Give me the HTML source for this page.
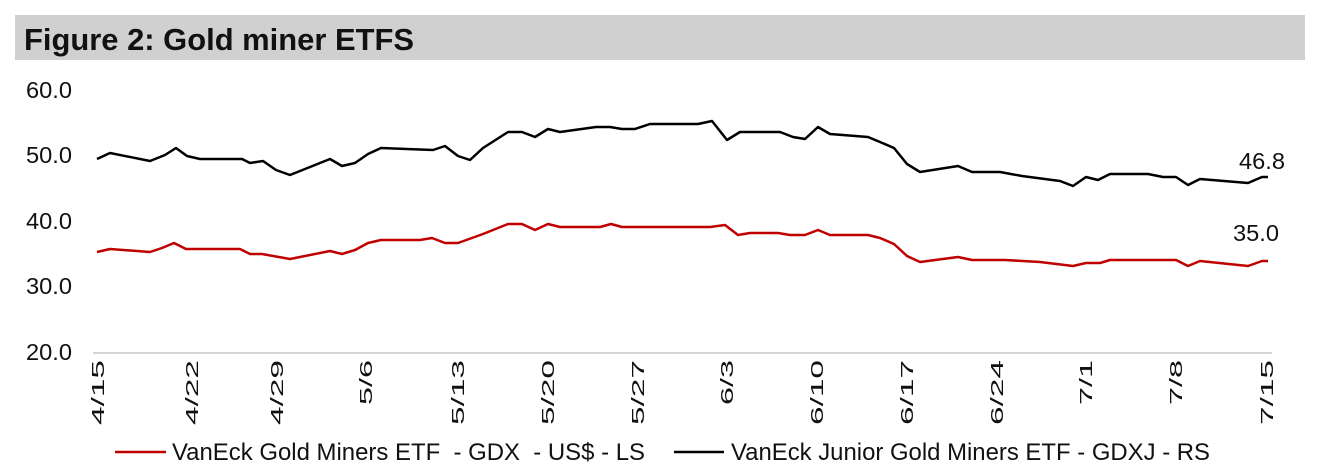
<!DOCTYPE html>
<html><head><meta charset="utf-8"><style>
html,body{margin:0;padding:0;background:#fff;}
svg{display:block;font-family:"Liberation Sans",Arial,sans-serif;}
</style></head><body>
<svg width="1321" height="472" viewBox="0 0 1321 472" xmlns="http://www.w3.org/2000/svg">
<rect x="15" y="15" width="1290" height="45" fill="#d0d0d0"/>
<text x="24" y="50" font-size="31" font-weight="bold" fill="#111" textLength="390" lengthAdjust="spacingAndGlyphs">Figure 2: Gold miner ETFS</text>
<g font-size="23" fill="#111" text-anchor="end">
<text x="72" y="98" textLength="46" lengthAdjust="spacingAndGlyphs">60.0</text>
<text x="72" y="163" textLength="46" lengthAdjust="spacingAndGlyphs">50.0</text>
<text x="72" y="229" textLength="46" lengthAdjust="spacingAndGlyphs">40.0</text>
<text x="72" y="294" textLength="46" lengthAdjust="spacingAndGlyphs">30.0</text>
<text x="72" y="360" textLength="46" lengthAdjust="spacingAndGlyphs">20.0</text>
</g>
<line x1="93" y1="353" x2="1272" y2="353" stroke="#d4d4d4" stroke-width="2"/>
<g font-size="22" fill="#111" text-anchor="end">
<text transform="translate(104,360) scale(0.8,1) rotate(-90)" textLength="65" lengthAdjust="spacingAndGlyphs">4/15</text>
<text transform="translate(198,360) scale(0.8,1) rotate(-90)" textLength="65" lengthAdjust="spacingAndGlyphs">4/22</text>
<text transform="translate(283,360) scale(0.8,1) rotate(-90)" textLength="65" lengthAdjust="spacingAndGlyphs">4/29</text>
<text transform="translate(372,360) scale(0.8,1) rotate(-90)" textLength="45" lengthAdjust="spacingAndGlyphs">5/6</text>
<text transform="translate(464,360) scale(0.8,1) rotate(-90)" textLength="65" lengthAdjust="spacingAndGlyphs">5/13</text>
<text transform="translate(554,360) scale(0.8,1) rotate(-90)" textLength="65" lengthAdjust="spacingAndGlyphs">5/20</text>
<text transform="translate(644,360) scale(0.8,1) rotate(-90)" textLength="65" lengthAdjust="spacingAndGlyphs">5/27</text>
<text transform="translate(733,360) scale(0.8,1) rotate(-90)" textLength="45" lengthAdjust="spacingAndGlyphs">6/3</text>
<text transform="translate(823,360) scale(0.8,1) rotate(-90)" textLength="65" lengthAdjust="spacingAndGlyphs">6/10</text>
<text transform="translate(913,360) scale(0.8,1) rotate(-90)" textLength="65" lengthAdjust="spacingAndGlyphs">6/17</text>
<text transform="translate(1003,360) scale(0.8,1) rotate(-90)" textLength="65" lengthAdjust="spacingAndGlyphs">6/24</text>
<text transform="translate(1092,360) scale(0.8,1) rotate(-90)" textLength="45" lengthAdjust="spacingAndGlyphs">7/1</text>
<text transform="translate(1182,360) scale(0.8,1) rotate(-90)" textLength="45" lengthAdjust="spacingAndGlyphs">7/8</text>
<text transform="translate(1273,360) scale(0.8,1) rotate(-90)" textLength="65" lengthAdjust="spacingAndGlyphs">7/15</text>
</g>
<polyline fill="none" stroke="#000" stroke-width="2.5" stroke-linejoin="round" points="97,159 110,153 150,161 165,155 176,148 187,156 200,159 242,159 250,163 263,161 276,170 290,175 330,159 342,166 355,163 368,154 381,148 433,150 445,146 458,156 470,160 483,148 508,132 522,132 535,137 548,129 560,132 596,127 610,127 622,129 635,129 650,124 698,124 712,121 727,140 740,132 780,132 793,137 805,139 818,127 830,134 868,137 880,142 894,148 907,164 920,172 958,166 972,172 1000,172 1022,176 1060,181 1073,186 1086,177 1098,180 1110,174 1135,174 1148,174 1163,177 1176,177 1188,185 1200,179 1248,183 1262,177 1268,177"/>
<polyline fill="none" stroke="#c00000" stroke-width="2.5" stroke-linejoin="round" points="97,252 110,249 150,252 162,248 174,243 186,249 240,249 250,254 262,254 290,259 330,251 342,254 355,250 368,243 381,240 420,240 432,238 445,243 458,243 483,234 508,224 522,224 535,230 548,224 560,227 600,227 611,224 622,227 710,227 725,225 738,235 750,233 778,233 790,235 805,235 818,230 830,235 868,235 880,238 894,244 907,256 920,262 958,257 972,260 1005,260 1040,262 1073,266 1086,263 1100,263 1110,260 1163,260 1176,260 1188,266 1200,261 1248,266 1262,261 1268,261"/>
<text x="1285" y="169" font-size="23" fill="#111" text-anchor="end" textLength="46" lengthAdjust="spacingAndGlyphs">46.8</text>
<text x="1279" y="241" font-size="23" fill="#111" text-anchor="end" textLength="46" lengthAdjust="spacingAndGlyphs">35.0</text>
<line x1="115" y1="452" x2="166" y2="452" stroke="#c00000" stroke-width="2.5"/>
<text x="172" y="460" font-size="24" fill="#111" textLength="473" lengthAdjust="spacingAndGlyphs" xml:space="preserve">VanEck Gold Miners ETF  - GDX  - US$ - LS</text>
<line x1="674" y1="452" x2="724" y2="452" stroke="#000" stroke-width="2.5"/>
<text x="731" y="460" font-size="24" fill="#111" textLength="479" lengthAdjust="spacingAndGlyphs">VanEck Junior Gold Miners ETF - GDXJ - RS</text>
</svg>
</body></html>
